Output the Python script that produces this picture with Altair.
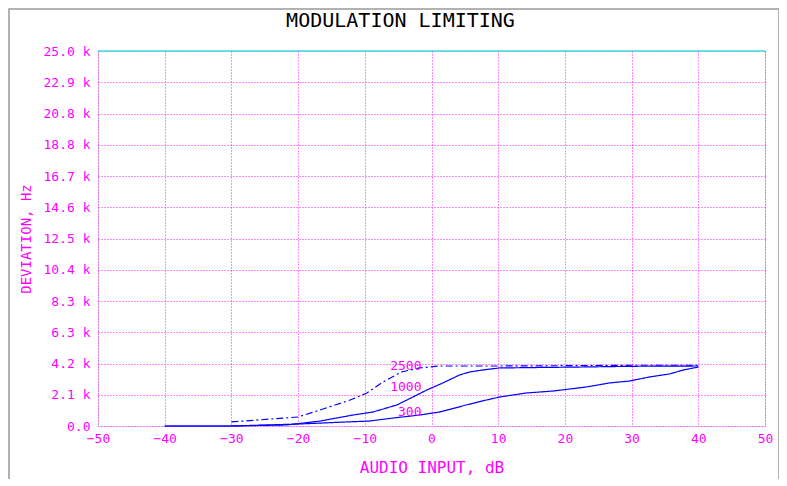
import altair as alt
import pandas as pd

# ---- data ----
x_2500 = [-30, -20, -16.7, -12.2, -9.7, -7.3, -4.5, -1.8, 1.2, 10, 20, 30, 40]
y_2500 = [270, 600, 1070, 1730, 2200, 2930, 3600, 3870, 4000, 4000, 4020, 4050, 4050]
x_1000 = [-40, -30, -21.7, -16.7, -11.8, -8.8, -5.2, -2.8, -0.7, 1.7, 4.2, 5.7, 7.6, 10.2, 22, 30, 40]
y_1000 = [0, 0, 70, 330, 730, 930, 1400, 1930, 2400, 2870, 3400, 3600, 3730, 3870, 3930, 3980, 4000]
x_300 = [-40, -30, -20, -12.7, -9.3, -5.8, -1.8, 1.2, 5.2, 8.2, 10.2, 14.2, 18.2, 23.2, 26.7, 29.7, 32.7, 35.7, 37.7, 40]
y_300 = [0, 0, 130, 270, 330, 530, 730, 930, 1400, 1730, 1930, 2200, 2330, 2600, 2870, 3000, 3270, 3470, 3730, 3930]

label_text = ["2500", "1000", "300"]
label_x = [-1.5, -1.5, -1.5]
label_y = [4000, 2600, 930]

x_ticks = [-50, -40, -30, -20, -10, 0, 10, 20, 30, 40, 50]
y_tick_labels = ["0.0", "2.1 k", "4.2 k", "6.3 k", "8.3 k", "10.4 k", "12.5 k",
                 "14.6 k", "16.7 k", "18.8 k", "20.8 k", "22.9 k", "25.0 k"]
y_max = 25000
y_ticks = [i * y_max / 12 for i in range(13)]

MAG = "#ff00ff"
FONT = "DejaVu Sans Mono"

rows = []
for name, xs, ys in [("2500", x_2500, y_2500), ("1000", x_1000, y_1000), ("300", x_300, y_300)]:
    for i, (a, b) in enumerate(zip(xs, ys)):
        rows.append({"series": name, "x": a, "y": b, "order": i})
df = pd.DataFrame(rows)
labels = pd.DataFrame({"t": label_text, "x": label_x, "y": label_y})

label_expr = "[" + ",".join("'%s'" % s for s in y_tick_labels) + "][round(datum.value / %f)]" % (y_max / 12)

xscale = alt.Scale(domain=[-50, 50], nice=False, zero=False)
yscale = alt.Scale(domain=[0, y_max], nice=False)

xaxis = alt.Axis(values=x_ticks, tickCount=20, title="AUDIO INPUT, dB", labelColor=MAG, titleColor=MAG,
                 labelFont=FONT, titleFont=FONT, labelFontSize=13, titleFontSize=16,
                 titleFontWeight="normal", labelPadding=6, titlePadding=14,
                 domain=False, ticks=False, grid=True, gridColor=MAG, labelOverlap=False,
                 gridDash=[1, 2], gridOpacity=0.9, labelFlush=False)
yaxis = alt.Axis(values=y_ticks, tickCount=20, labelExpr=label_expr, title="DEVIATION, Hz", labelColor=MAG,
                 titleColor=MAG, labelFont=FONT, titleFont=FONT, labelFontSize=13,
                 titleFontSize=14, titleFontWeight="normal", labelPadding=8, titlePadding=10,
                 domain=False, ticks=False, grid=True, gridColor=MAG, gridDash=[1, 2],
                 labelOverlap=False, gridOpacity=0.9, labelFlush=False)

base = alt.Chart(df)

lines = base.mark_line(strokeWidth=1.2, clip=False).encode(
    x=alt.X("x:Q", scale=xscale, axis=xaxis),
    y=alt.Y("y:Q", scale=yscale, axis=yaxis),
    detail="series:N",
    order="order:Q",
    color=alt.value("#0000ff"),
    strokeDash=alt.StrokeDash("series:N", scale=alt.Scale(domain=["2500", "1000", "300"],
                              range=[[7, 3, 2, 3], [1, 0], [1, 0]]), legend=None),
)

top_line = alt.Chart(pd.DataFrame({"y": [y_max]})).mark_rule(color="#40e0e0", strokeWidth=1.5).encode(
    y=alt.Y("y:Q", scale=yscale), x=alt.value(0), x2=alt.value(667)
)

text = alt.Chart(labels).mark_text(align="right", baseline="middle", font=FONT, fontSize=13,
                                   color=MAG).encode(
    x=alt.X("x:Q", scale=xscale), y=alt.Y("y:Q", scale=yscale), text="t:N"
)

frame = alt.Chart(pd.DataFrame({"a": [0]})).mark_rect(fill=None, stroke="#999999", strokeWidth=1.5,
                                                     clip=False).encode(
    x=alt.value(-89), x2=alt.value(681), y=alt.value(-42), y2=alt.value(470)
)

chart = alt.layer(frame, top_line, lines, text).properties(
    width=667, height=375,
    title=alt.TitleParams("MODULATION LIMITING", font=FONT, fontSize=20, fontWeight="normal",
                          color="black", anchor="middle", dx=-31, offset=0, dy=23),
    autosize=alt.AutoSizeParams(type="none"),
    padding={"left": 90, "top": 43, "right": 14, "bottom": 53},
).configure_view(stroke=None).configure(background="white")

chart.save("out.html", embed_options={"renderer": "svg", "actions": False})
